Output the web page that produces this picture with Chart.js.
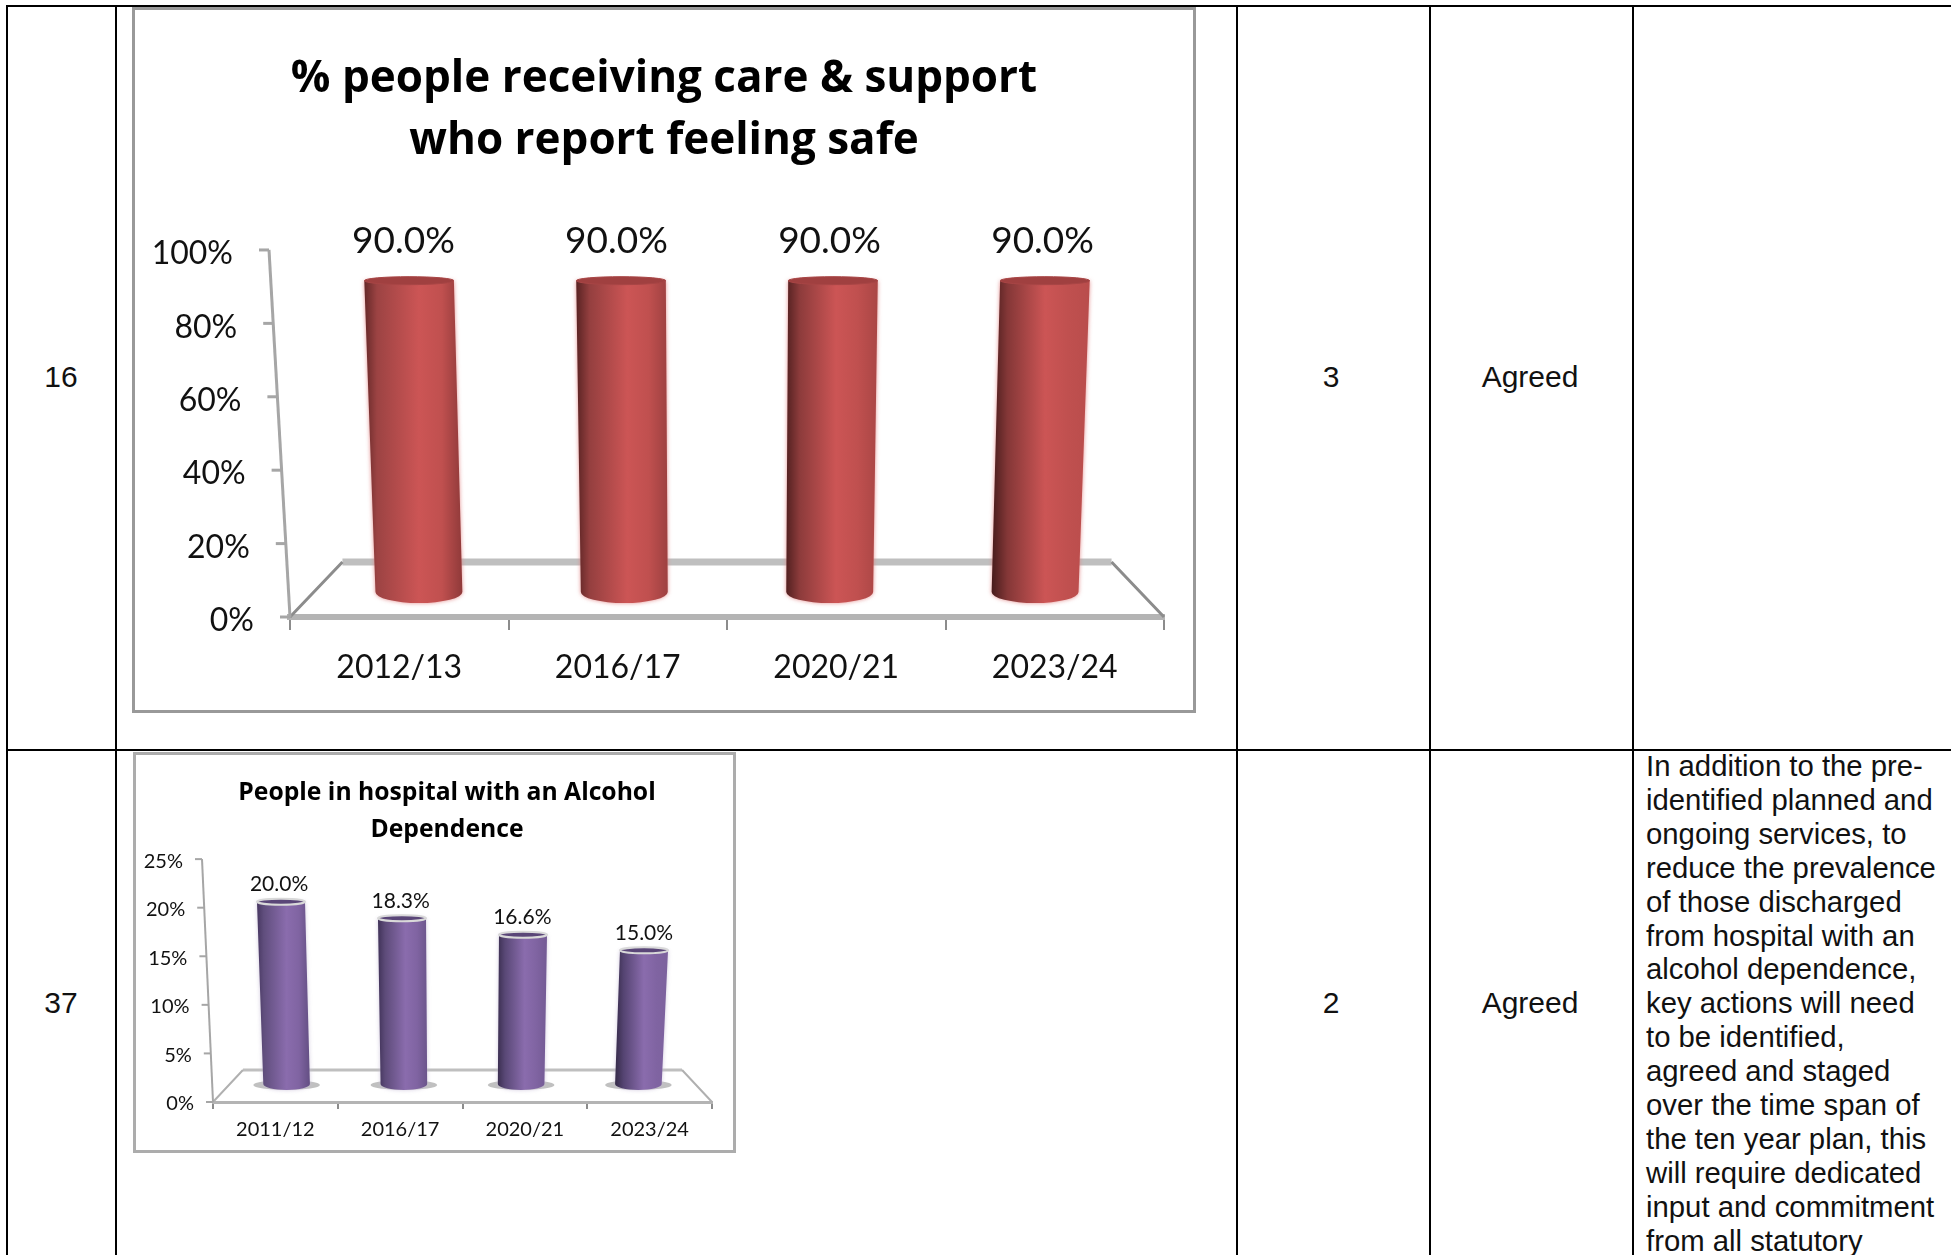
<!DOCTYPE html>
<html>
<head>
<meta charset="utf-8">
<title>Outcome measures</title>
<script src="https://cdn.jsdelivr.net/npm/chart.js@4"></script>
<style>
  html, body { margin: 0; background: #fff; overflow: hidden; }
  #page { position: relative; width: 1951px; height: 1255px; overflow: hidden; font-family: "Liberation Sans", Arial, sans-serif; color: #111; }
  .hline, .vline { position: absolute; background: #000; }
  .hline { left: 6px; width: 1945px; height: 2px; }
  .vline { top: 5px; width: 2px; height: 1250px; }
  .cell { position: absolute; font-size: 30px; line-height: 34px; transform: translate(-50%, -50%); white-space: nowrap; }
  #note { position: absolute; left: 1646px; top: 749px; font-size: 29.3px; line-height: 33.9px; white-space: pre; }
  .box { position: absolute; box-sizing: border-box; background: #fff; }
  .box canvas { display: block; }
</style>
</head>
<body>
<div id="page">
  <div class="hline" style="top:5px"></div>
  <div class="hline" style="top:749px"></div>
  <div class="vline" style="left:6px"></div>
  <div class="vline" style="left:115px"></div>
  <div class="vline" style="left:1236px"></div>
  <div class="vline" style="left:1429px"></div>
  <div class="vline" style="left:1632px"></div>

  <div class="cell" style="left:61px;top:377px">16</div>
  <div class="cell" style="left:1331px;top:377px">3</div>
  <div class="cell" style="left:1530px;top:377px">Agreed</div>
  <div class="cell" style="left:61px;top:1003px">37</div>
  <div class="cell" style="left:1331px;top:1003px">2</div>
  <div class="cell" style="left:1530px;top:1003px">Agreed</div>
  <div id="note">In addition to the pre-
identified planned and
ongoing services, to
reduce the prevalence
of those discharged
from hospital with an
alcohol dependence,
key actions will need
to be identified,
agreed and staged
over the time span of
the ten year plan, this
will require dedicated
input and commitment
from all statutory</div>

  <div class="box" style="left:132px;top:7px;width:1064px;height:706px;border:3px solid #999"><canvas id="safeChart"></canvas></div>
  <div class="box" style="left:133px;top:752px;width:603px;height:401px;border:3px solid #acacac"><canvas id="alcoholChart"></canvas></div>
</div>

<script>
// Chart data
const safeYears = ['2012/13', '2016/17', '2020/21', '2023/24'];
const safeValues = [90.0, 90.0, 90.0, 90.0];
const safeTitle = ['% people receiving care & support', 'who report feeling safe'];

const alcoholYears = ['2011/12', '2016/17', '2020/21', '2023/24'];
const alcoholValues = [20.0, 18.3, 16.6, 15.0];
const alcoholTitle = ['People in hospital with an Alcohol', 'Dependence'];

const TITLE_FONT = '"Open Sans", "DejaVu Sans", sans-serif';
const LABEL_FONT = 'Lato, sans-serif';

// Fake 3D look. Everything is worked out from the bar elements and the scales.
const cylinderPlugin = {
  id: 'cylinders',
  beforeDatasetsDraw(chart, args, o) {
    const ctx = chart.ctx;
    const area = chart.chartArea;
    const yScale = chart.scales.y;
    const cx = (area.left + area.right) / 2;
    const inset = (area.right - area.left) * 0.06;

    // floor
    ctx.save();
    ctx.strokeStyle = '#bfbfbf';
    ctx.lineWidth = o.floorBack;
    ctx.beginPath();
    ctx.moveTo(area.left + inset, area.bottom - o.floorDepth);
    ctx.lineTo(area.right - inset, area.bottom - o.floorDepth);
    ctx.stroke();
    ctx.strokeStyle = o.floorSideColor;
    ctx.lineWidth = o.floorSide;
    ctx.beginPath();
    ctx.moveTo(area.left, area.bottom);
    ctx.lineTo(area.left + inset, area.bottom - o.floorDepth);
    ctx.moveTo(area.right - inset, area.bottom - o.floorDepth);
    ctx.lineTo(area.right, area.bottom);
    ctx.stroke();

    // slanted value axis, with its ticks and labels following the slant
    const axisX = v => area.left - o.axisLean * (v / yScale.max);
    ctx.strokeStyle = '#a6a6a6';
    ctx.lineWidth = o.axisLine;
    ctx.beginPath();
    ctx.moveTo(axisX(yScale.max), yScale.getPixelForValue(yScale.max));
    ctx.lineTo(axisX(0), yScale.getPixelForValue(0));
    ctx.stroke();
    ctx.fillStyle = '#111';
    ctx.font = o.fontSize + 'px ' + LABEL_FONT;
    ctx.textAlign = 'right';
    ctx.textBaseline = 'middle';
    yScale.ticks.forEach(t => {
      const py = yScale.getPixelForValue(t.value);
      const px = axisX(t.value);
      ctx.beginPath();
      ctx.moveTo(px - o.tickLen, py);
      ctx.lineTo(px, py);
      ctx.stroke();
      ctx.fillText(t.value + '%', px - o.labelGap, py + o.labelDrop);
    });
    ctx.restore();

    // bars
    chart.getDatasetMeta(0).data.forEach((bar, i) => {
      const t = (bar.x - area.left) / (area.right - area.left);
      const topX = cx + (bar.x - cx) * 0.97;
      const baseX = cx + (bar.x - cx) * 0.94;
      const topY = bar.y - o.topLift;
      const baseY = bar.base - o.baseLift;
      const hw = bar.width / 2;
      const hwBase = hw * 0.97;

      ctx.save();
      if (o.shadow) {
        ctx.fillStyle = o.shadow;
        ctx.beginPath();
        ctx.ellipse(baseX, baseY + 1, hwBase + 10, o.baseRy - 1, 0, 0, Math.PI * 2);
        ctx.fill();
      }
      const grad = ctx.createLinearGradient(Math.min(topX, baseX) - hw, 0, Math.max(topX, baseX) + hw, 0);
      grad.addColorStop(0, mix(o.leftDark, o.leftDarker, t));
      grad.addColorStop(0.12 + t * 0.06, mix(o.shade, o.leftDark, t * 0.6));
      grad.addColorStop(0.55, o.light);
      grad.addColorStop(0.78, o.body);
      grad.addColorStop(1, mix(o.rightDark, o.body, t));
      ctx.shadowColor = o.halo;
      ctx.shadowBlur = 4;
      ctx.fillStyle = grad;
      ctx.beginPath();
      ctx.moveTo(topX - hw, topY);
      ctx.lineTo(baseX - hwBase, baseY);
      ctx.ellipse(baseX, baseY, hwBase, o.baseRy, 0, Math.PI, 0, true);
      ctx.lineTo(topX + hw, topY);
      ctx.closePath();
      ctx.fill();
      ctx.shadowBlur = 0;

      // top of the cylinder
      ctx.fillStyle = o.cap;
      ctx.beginPath();
      ctx.ellipse(topX, topY, hw, o.topRy, 0, 0, Math.PI * 2);
      ctx.fill();
      ctx.strokeStyle = o.rim;
      ctx.lineWidth = o.rimLine;
      ctx.stroke();
      ctx.restore();
    });
  },
  afterDatasetsDraw(chart, args, o) {
    const ctx = chart.ctx;
    const cx = (chart.chartArea.left + chart.chartArea.right) / 2;
    ctx.save();
    ctx.fillStyle = '#111';
    ctx.font = o.valueSize + 'px ' + LABEL_FONT;
    ctx.textAlign = 'center';
    ctx.textBaseline = 'middle';
    chart.getDatasetMeta(0).data.forEach((bar, i) => {
      const value = chart.data.datasets[0].data[i];
      ctx.fillText(value.toFixed(1) + '%', cx + (bar.x - cx) * 0.975 + o.valueShift, bar.y - o.topLift - o.valueGap);
    });
    ctx.restore();
  }
};

function mix(a, b, t) {
  const pa = [1, 3, 5].map(i => parseInt(a.slice(i, i + 2), 16));
  const pb = [1, 3, 5].map(i => parseInt(b.slice(i, i + 2), 16));
  return 'rgb(' + pa.map((v, i) => Math.round(v + (pb[i] - v) * t)).join(',') + ')';
}

function makeChart(id, size, labels, values, title, maxValue, step, cfg) {
  const canvas = document.getElementById(id);
  canvas.width = size.w;
  canvas.height = size.h;
  return new Chart(canvas.getContext('2d'), {
    type: 'bar',
    plugins: [cylinderPlugin],
    data: {
      labels: labels,
      datasets: [{
        data: values,
        backgroundColor: 'rgba(0,0,0,0)',
        borderWidth: 0,
        barPercentage: cfg.barPercentage,
        categoryPercentage: 1
      }]
    },
    options: {
      responsive: false,
      animation: false,
      layout: { padding: cfg.padding },
      plugins: {
        legend: { display: false },
        tooltip: { enabled: false },
        title: {
          display: true,
          text: title,
          color: '#000',
          font: { family: TITLE_FONT, size: cfg.titleSize, weight: 'bold', lineHeight: cfg.titleLine },
          padding: { top: cfg.titleTop, bottom: cfg.titleBottom }
        },
        cylinders: cfg
      },
      scales: {
        x: {
          grid: { drawOnChartArea: false, drawTicks: true, tickLength: cfg.xTick, color: '#8c8c8c', lineWidth: 2 },
          border: { color: '#b4b4b4', width: cfg.floorFront },
          ticks: { color: '#111', maxRotation: 0, padding: cfg.xPad, font: { family: LABEL_FONT, size: cfg.fontSize } },
          afterFit(scale) { scale.height = cfg.xHeight; }
        },
        y: {
          min: 0,
          max: maxValue,
          ticks: { stepSize: step, display: false },
          grid: { display: false },
          border: { display: false },
          afterFit(scale) { scale.width = cfg.yWidth; }
        }
      }
    }
  });
}

makeChart('safeChart', { w: 1058, h: 700 }, safeYears, safeValues, safeTitle, 100, 20, {
  padding: { left: 29, right: 29, top: 0, bottom: 0 },
  yWidth: 126, xHeight: 93,
  barPercentage: 0.41,
  titleSize: 44, titleLine: 1.42, titleTop: 38, titleBottom: 77,
  fontSize: 32, valueSize: 37, valueShift: -4, xTick: 13, xPad: 18,
  floorFront: 6, floorBack: 7, floorSide: 3, floorSideColor: '#8c8c8c',
  floorDepth: 55, axisLean: 21, axisLine: 3, tickLen: 10, labelGap: 36, labelDrop: 4,
  topLift: 6, baseLift: 25, topRy: 4, baseRy: 11, valueGap: 40,
  leftDark: '#6b2b2b', leftDarker: '#3b1616', shade: '#a04545', light: '#cc5555', body: '#c0504f', rightDark: '#843535',
  cap: '#a04040', rim: '#a84545', rimLine: 1, halo: 'rgba(225,130,130,0.9)'
});

makeChart('alcoholChart', { w: 597, h: 395 }, alcoholYears, alcoholValues, alcoholTitle, 25, 5, {
  padding: { left: 46, right: 21, top: 0, bottom: 0 },
  yWidth: 31, xHeight: 48,
  barPercentage: 0.385,
  titleSize: 24.7, titleLine: 1.48, titleTop: 20, titleBottom: 11,
  fontSize: 20, valueSize: 21, valueShift: -1, xTick: 7, xPad: 9,
  floorFront: 3, floorBack: 3, floorSide: 2, floorSideColor: '#b0b0b0',
  floorDepth: 32, axisLean: 11, axisLine: 2, tickLen: 7, labelGap: 19, labelDrop: 2,
  topLift: 6, baseLift: 18, topRy: 3, baseRy: 6, valueGap: 17,
  leftDark: '#4a3a66', leftDarker: '#2f2540', shade: '#62507f', light: '#8a6cad', body: '#8064a2', rightDark: '#5d4a7c',
  cap: '#5a4678', rim: '#d9d9d9', rimLine: 2, halo: 'rgba(200,190,215,0.8)', shadow: 'rgba(150,150,150,0.6)'
});
</script>
</body>
</html>
